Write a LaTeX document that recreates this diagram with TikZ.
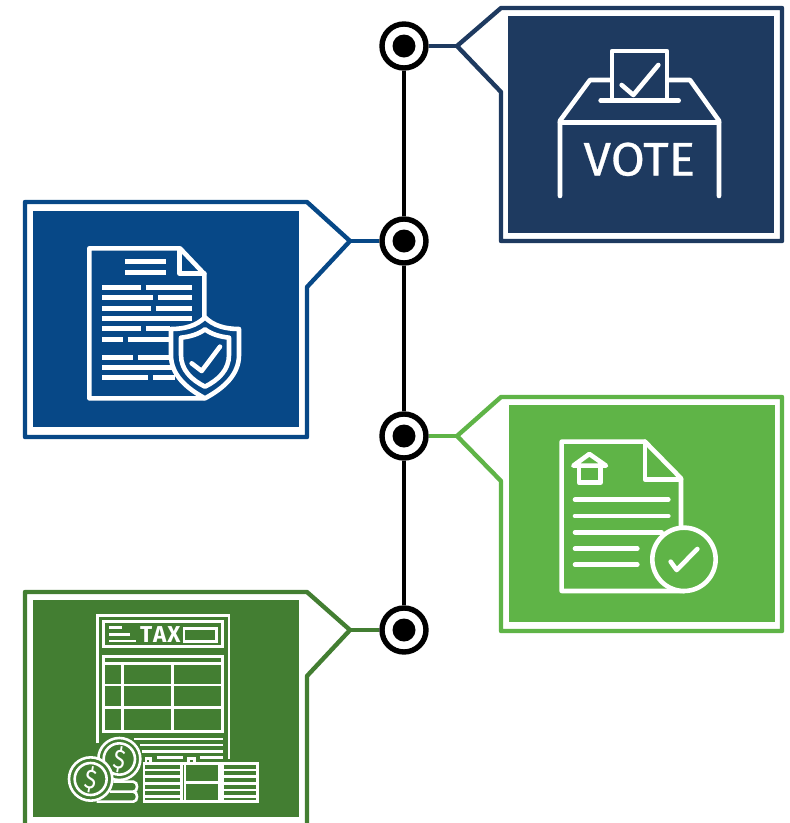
\documentclass[tikz,border=0pt]{standalone}
\usepackage{fontspec}
\setmainfont{Fira Sans}
\newfontfamily\votefont[FakeBold=0.6]{Fira Sans}
\definecolor{navy}{HTML}{1E3A60}
\definecolor{bluec}{HTML}{074887}
\definecolor{greenc}{HTML}{5FB447}
\definecolor{darkg}{HTML}{437E32}
\tikzset{
  ring/.style={circle,draw=black,fill=white,line width=5.4pt,minimum size=44pt,inner sep=0pt},
  spine/.style={black,line width=4.6pt},
  callout/.style={line width=4.4pt,line join=round,fill=white},
  link/.style={line width=4.4pt},
  panel/.style={draw=none,inner sep=0pt,anchor=north west},
  ico/.style={draw=white,line width=4.6pt,line join=round,line cap=round},
  txtline/.style={draw=white,line width=5pt,line cap=butt},
  taxline/.style={draw=white,line width=2.6pt,line join=miter,line cap=butt},
}
\begin{document}
\begin{tikzpicture}[x=1pt,y=-1pt]
\path[use as bounding box,clip] (0,0) rectangle (790,823);
\fill[white] (0,0) rectangle (790,823);

% timeline
\node[ring] (d1) at (404,46) {};
\node[ring] (d2) at (404,241) {};
\node[ring] (d3) at (404,436) {};
\node[ring] (d4) at (404,630) {};
\draw[spine] (d1) -- (d2);
\draw[spine] (d2) -- (d3);
\draw[spine] (d3) -- (d4);
\foreach \n in {d1,d2,d3,d4} \fill[black] (\n.center) circle (11.5pt);

% callouts
\coordinate (t1) at (457,46);
\coordinate (t2) at (350,241);
\coordinate (t3) at (457,436);
\coordinate (t4) at (350,630);

\draw[callout,draw=navy] (501,92) -- (t1) -- (501,8) -- (782,8) -- (782,241) -- (501,241) -- cycle;
\draw[link,draw=navy] (d1) -- (t1);
\node[panel,fill=navy,minimum width=266pt,minimum height=217pt] (p1) at (508,16) {};

\draw[callout,draw=bluec] (307,287) -- (t2) -- (307,202) -- (25,202) -- (25,437) -- (307,437) -- cycle;
\draw[link,draw=bluec] (d2) -- (t2);
\node[panel,fill=bluec,minimum width=266pt,minimum height=216pt] (p2) at (33,211) {};

\draw[callout,draw=greenc] (501,481) -- (t3) -- (501,397) -- (782,397) -- (782,631) -- (501,631) -- cycle;
\draw[link,draw=greenc] (d3) -- (t3);
\node[panel,fill=greenc,minimum width=266pt,minimum height=217pt] (p3) at (509,405) {};

\draw[callout,draw=darkg] (307,676) -- (t4) -- (307,592) -- (25,592) -- (25,826) -- (307,826) -- cycle;
\draw[link,draw=darkg] (d4) -- (t4);
\node[panel,fill=darkg,minimum width=266pt,minimum height=217pt] (p4) at (33,600) {};

% vote icon
\begin{scope}[shift={(370,0)},x=.33333pt,y=-.33333pt]
\draw[ico] (570,588) -- (570,362) -- (660,240) -- (725,240);
\draw[ico] (892,240) -- (960,240) -- (1047,362) -- (1047,588);
\draw[ico] (570,367) -- (1047,367);
\draw[ico] (726,302) -- (726,153) -- (891,153) -- (891,302);
\draw[ico] (692,302) -- (926,302);
\draw[ico] (755,255) -- (790,285) -- (865,195);
\node[text=white,font=\votefont\fontsize{47}{47}\selectfont,inner sep=0pt] (vote) at (808,478) {\scalebox{1.05}[1]{VOTE}};
\end{scope}

% document + shield icon
\begin{scope}[shift={(20,195)},x=.33333pt,y=-.33333pt]
\draw[ico] (553,365) -- (553,237) -- (480,160) -- (208,160) -- (208,610) -- (553,610);
\draw[ico] (478,165) -- (478,235) -- (553,235);
\foreach \yy/\a/\b in {200/315/438,231/315/438,277/247/362,277/377/515,308/247/400,308/415/515,339/247/392,339/407/515,370/247/515,401/247/362,401/377/450,432/247/308,432/323/447,486/247/340,486/354/447,517/247/455,548/247/385,548/400/465}
  \draw[txtline] (\a,\yy) -- (\b,\yy);
\draw[ico,fill=bluec] (555,367) .. controls (530,392) and (495,402) .. (453,402) -- (453,480) .. controls (453,540) and (500,580) .. (555,610) .. controls (610,580) and (657,540) .. (657,480) -- (657,402) .. controls (615,402) and (580,392) .. (555,367) -- cycle;
\draw[ico] (555,403) .. controls (535,418) and (510,425) .. (483,428) -- (483,480) .. controls (483,525) and (515,555) .. (555,575) .. controls (595,555) and (627,525) .. (627,480) -- (627,428) .. controls (600,425) and (575,418) .. (555,403) -- cycle;
\draw[ico] (515,505) -- (545,528) -- (600,455);
\end{scope}

% house document icon
\begin{scope}[shift={(380,390)},x=.33333pt,y=-.33333pt]
\draw[ico] (903,410) -- (903,265) -- (795,155) -- (545,155) -- (545,603) -- (912,603);
\draw[ico] (795,155) -- (795,268) -- (903,268);
\foreach \yy/\b in {329/865,378/865,427/845,476/772,524/772}
  \draw[ico] (585,\yy) -- (\b,\yy);
\draw[ico,fill=greenc] (912,508) circle [radius=95];
\draw[ico] (872,515) -- (890,540) -- (952,477);
\draw[ico] (580,227) -- (628,192) -- (678,227) -- cycle;
\draw[ico] (597,227) -- (597,278) -- (662,278) -- (662,227);
\end{scope}

% tax icon
\begin{scope}[shift={(20,585)},x=.33333pt,y=-.33333pt]
\draw[taxline] (233,475) -- (233,92) -- (627,92) -- (627,522);
\draw[taxline] (250,110) rectangle (608,185);
\draw[taxline] (268,128) -- (305,128) (268,148) -- (330,148) (268,168) -- (348,168);
\node[text=white,font=\fontsize{23}{23}\selectfont\bfseries,inner sep=0pt] (tax) at (421,149) {\scalebox{.98}[1]{T\kern1pt A\kern1pt X}};
\draw[taxline] (492,130) rectangle (590,170);
\draw[taxline] (250,215) rectangle (608,440);
\draw[taxline] (250,235) -- (608,235) (250,300) -- (608,300) (250,367) -- (608,367);
\draw[taxline] (307,235) -- (307,440) (458,235) -- (458,440);
\draw[taxline] (342,462) -- (610,462) (360,480) -- (610,480) (365,500) -- (610,500) (410,518) -- (490,518) (540,518) -- (610,518);
\draw[taxline] (378,530) -- (378,520) -- (392,520) -- (392,530);
\draw[taxline] (506,530) -- (506,520) -- (524,520) -- (524,530);
\draw[taxline] (372,535) rectangle (712,650);
\draw[taxline] (485,535) -- (485,650) (495,535) -- (495,650) (598,535) -- (598,650) (608,535) -- (608,650);
\foreach \yy in {555,575,595,615,635}
  \draw[taxline] (372,\yy) -- (485,\yy) (608,\yy) -- (712,\yy);
\draw[taxline] (495,592) -- (598,592);
\draw[taxline] (280,590) -- (340,590) .. controls (355,590) and (355,620) .. (340,620) -- (270,620) (340,620) .. controls (355,620) and (355,650) .. (340,650) -- (230,650);
\draw[taxline,fill=darkg] (298,522) circle [radius=63];
\draw[taxline] (298,522) circle [radius=47];
\node[text=white,font=\fontsize{27}{27}\selectfont,rotate=-10,inner sep=0pt] (c1) at (298,524) {\scalebox{.85}[1]{\$}};
\draw[taxline,fill=darkg] (212,582) circle [radius=65];
\draw[taxline] (212,582) circle [radius=48];
\node[text=white,font=\fontsize{27}{27}\selectfont,rotate=-10,inner sep=0pt] (c2) at (212,584) {\scalebox{.85}[1]{\$}};
\end{scope}
\end{tikzpicture}
\end{document}
